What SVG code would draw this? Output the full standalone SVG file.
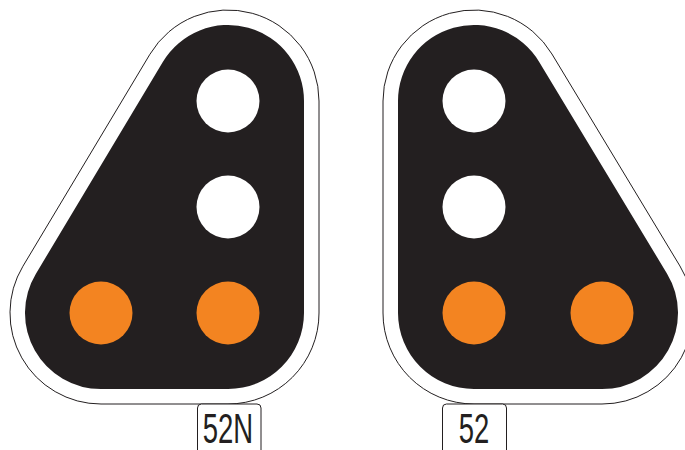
<svg xmlns="http://www.w3.org/2000/svg" width="685" height="450" viewBox="0 0 685 450">
<style>
.outline{fill:#ffffff;stroke:#231f20;stroke-width:1}
.body{fill:#231f20}
.white{fill:#ffffff}
.amber{fill:#f38421}
.plate{fill:#ffffff;stroke:#231f20;stroke-width:1}
.lbl{font-family:"Liberation Sans",Arial,sans-serif;font-size:42px;fill:#231f20;text-anchor:middle}
</style>
<rect width="685" height="450" fill="#ffffff"/>
<g id="signal-52N">
<path class="outline" d="M319,101 L319,313 A91,91 0 0 1 228,404 L101,404 A91,91 0 0 1 22.93,266.24 L149.93,54.24 A91,91 0 0 1 319,101 Z"/>
<path class="body" d="M304,101 L304,313 A76,76 0 0 1 228,389 L101,389 A76,76 0 0 1 35.8,273.94 L162.8,61.94 A76,76 0 0 1 304,101 Z"/>
<circle class="white" cx="228" cy="101" r="31.5"/>
<circle class="white" cx="228" cy="207" r="31.5"/>
<circle class="amber" cx="101" cy="313" r="31.5"/>
<circle class="amber" cx="228" cy="313" r="31.5"/>
</g>
<g id="signal-52">
<path class="outline" d="M383,313 L383,101 A91,91 0 0 1 551.9,53.96 L679.9,265.96 A91,91 0 0 1 602,404 L474,404 A91,91 0 0 1 383,313 Z"/>
<path class="body" d="M398,313 L398,101 A76,76 0 0 1 539.06,61.72 L667.06,273.72 A76,76 0 0 1 602,389 L474,389 A76,76 0 0 1 398,313 Z"/>
<circle class="white" cx="474" cy="101" r="31.5"/>
<circle class="white" cx="474" cy="207" r="31.5"/>
<circle class="amber" cx="474" cy="313" r="31.5"/>
<circle class="amber" cx="602" cy="313" r="31.5"/>
</g>
<g id="plate-52N">
<rect class="plate" x="197.5" y="404" width="63.5" height="60" rx="4"/>
<text class="lbl" x="228" y="442.5" textLength="50.5" lengthAdjust="spacingAndGlyphs">52N</text>
</g>
<g id="plate-52">
<rect class="plate" x="442.5" y="404" width="64" height="60" rx="4"/>
<text class="lbl" x="474" y="442.5" textLength="30.5" lengthAdjust="spacingAndGlyphs">52</text>
</g>
</svg>
